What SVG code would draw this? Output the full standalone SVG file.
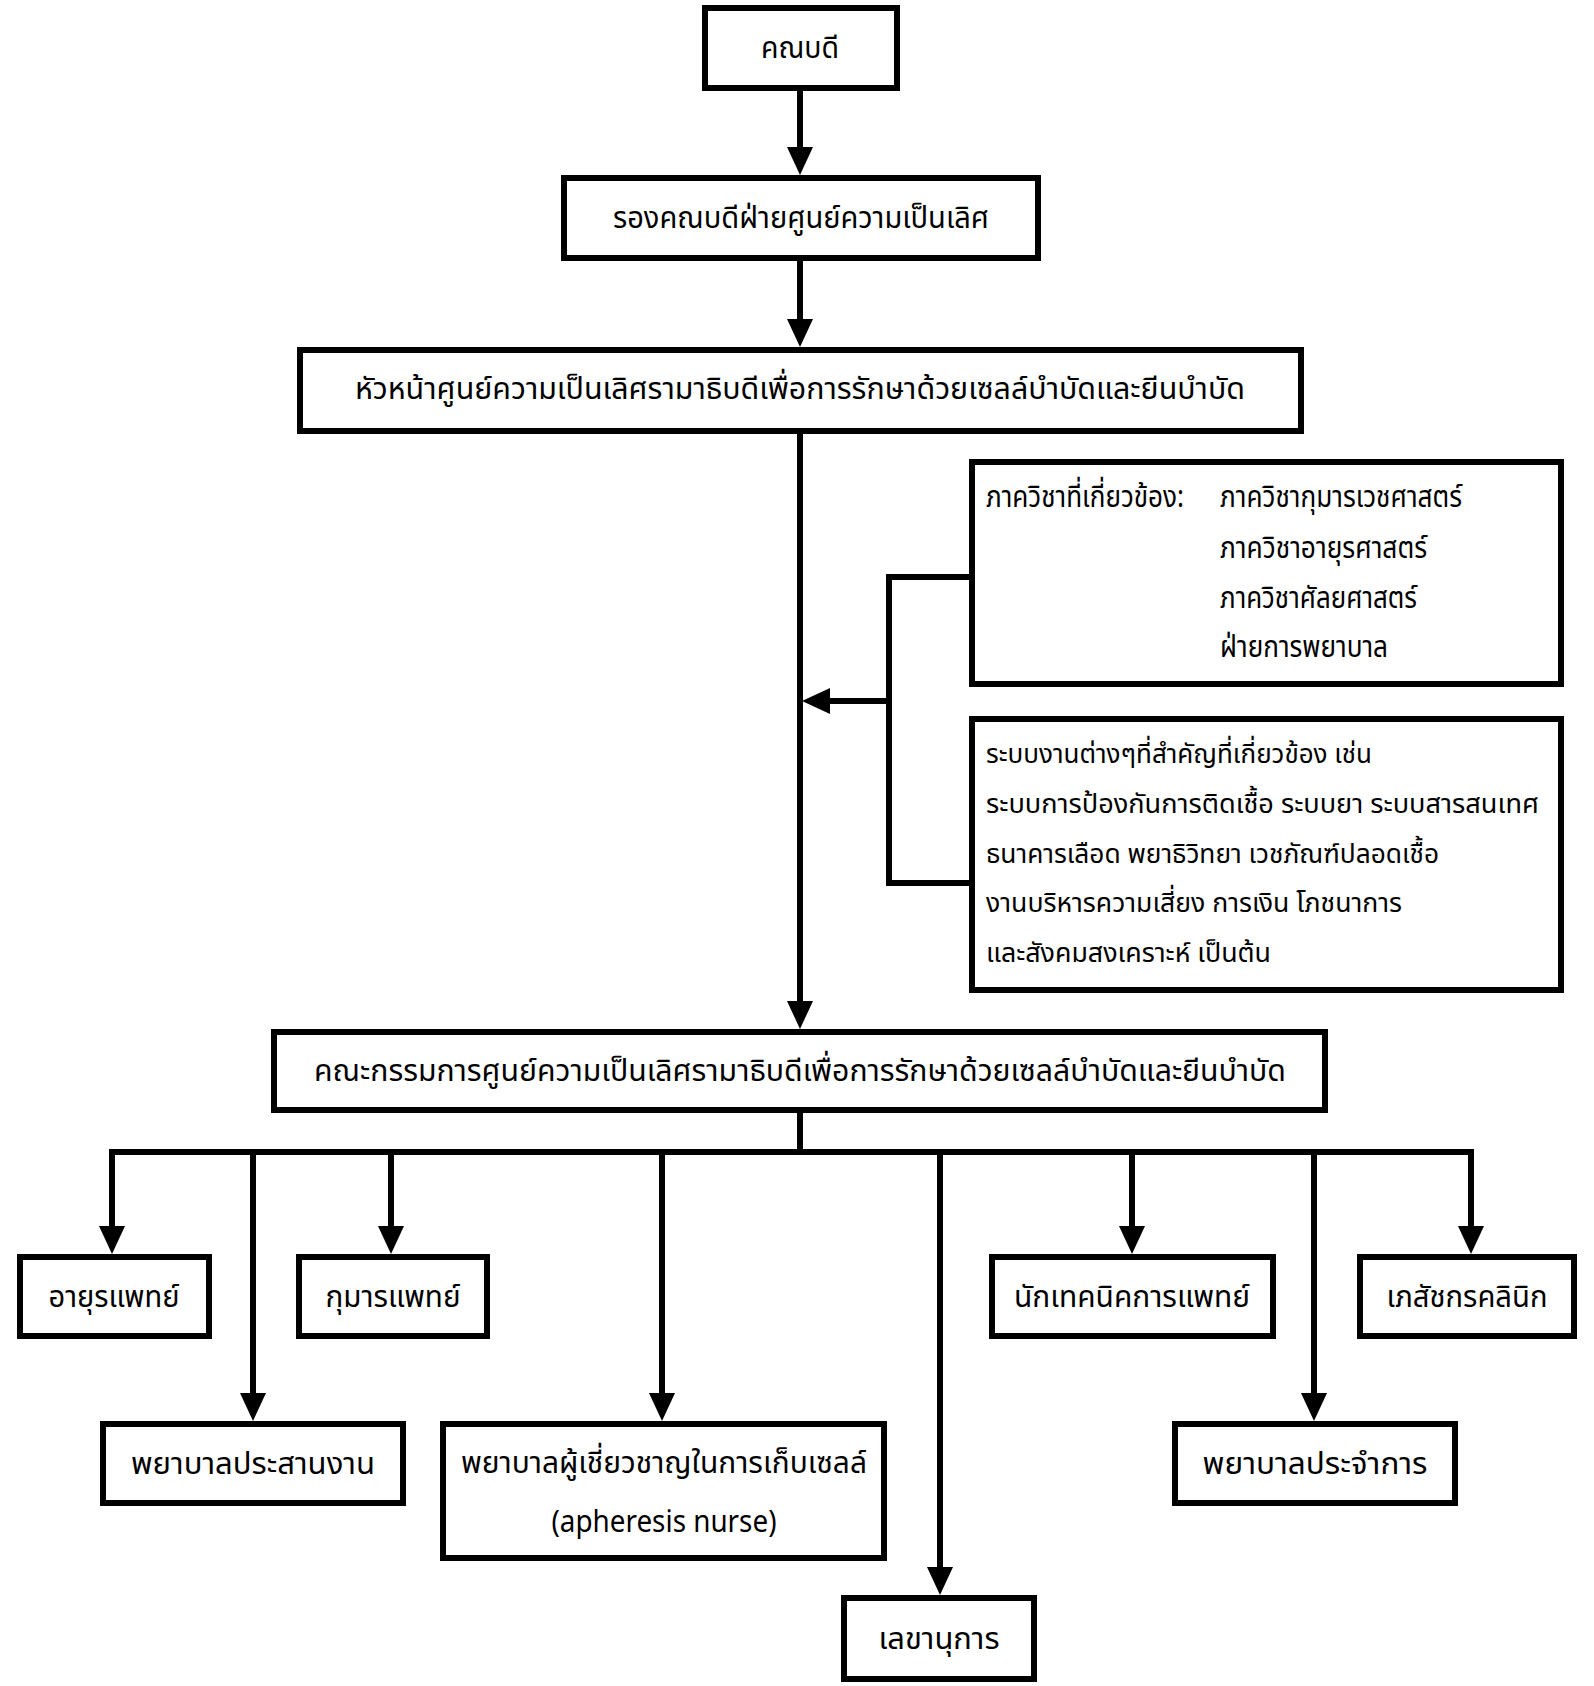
<svg xmlns="http://www.w3.org/2000/svg" width="1594" height="1686" viewBox="0 0 1594 1686">
<style>
.box{fill:#fff;stroke:#000;stroke-width:6}
.ln{fill:none;stroke:#000;stroke-width:6}
.ar{fill:none;stroke:#000;stroke-width:6;marker-end:url(#ah)}
text{font-family:"Noto Sans Thai","Leelawadee UI","Noto Sans","DejaVu Sans",sans-serif;font-size:30px;fill:#000}
.c{text-anchor:middle}
.s{font-size:27px}
</style>
<defs>
<marker id="ah" markerUnits="userSpaceOnUse" markerWidth="28" markerHeight="26" refX="8" refY="13" orient="auto">
<path d="M0,0 L28,13 L0,26 z" fill="#000"/>
</marker>
</defs>
<rect width="1594" height="1686" fill="#fff"/>
<g id="connectors">
<line class="ar" x1="800" y1="91" x2="800" y2="155"/>
<line class="ar" x1="800" y1="261" x2="800" y2="327"/>
<line class="ar" x1="800" y1="434" x2="800" y2="1009"/>
<path class="ln" d="M969 577 H889 V883 H969"/>
<line class="ar" x1="889" y1="701" x2="822" y2="701"/>
<path class="ln" d="M800 1113 V1152"/>
<path class="ln" d="M112 1234 V1152 H1471 V1234"/>
<path class="ar" d="M112 1152 V1234"/>
<path class="ar" d="M1471 1152 V1234"/>
<line class="ar" x1="391" y1="1152" x2="391" y2="1234"/>
<line class="ar" x1="1132" y1="1152" x2="1132" y2="1234"/>
<line class="ar" x1="253" y1="1152" x2="253" y2="1401"/>
<line class="ar" x1="662" y1="1152" x2="662" y2="1401"/>
<line class="ar" x1="1314" y1="1152" x2="1314" y2="1401"/>
<line class="ar" x1="940" y1="1152" x2="940" y2="1575"/>
</g>
<g id="dean"><rect class="box" x="705" y="8" width="192" height="80"/><text class="c" x="800" y="58" textLength="78" lengthAdjust="spacingAndGlyphs">คณบดี</text></g>
<g id="vice-dean"><rect class="box" x="564" y="178" width="474" height="80"/><text class="c" x="801" y="228" textLength="376" lengthAdjust="spacingAndGlyphs">รองคณบดีฝ่ายศูนย์ความเป็นเลิศ</text></g>
<g id="head"><rect class="box" x="300" y="350" width="1001" height="81"/><text class="c" x="800" y="399" textLength="890" lengthAdjust="spacingAndGlyphs">หัวหน้าศูนย์ความเป็นเลิศรามาธิบดีเพื่อการรักษาด้วยเซลล์บำบัดและยีนบำบัด</text></g>
<g id="departments"><rect class="box" x="972" y="462" width="589" height="222"/>
<text x="986" y="507" textLength="198" lengthAdjust="spacingAndGlyphs">ภาควิชาที่เกี่ยวข้อง:</text>
<text x="1220" y="507" textLength="242" lengthAdjust="spacingAndGlyphs">ภาควิชากุมารเวชศาสตร์</text>
<text x="1220" y="558" textLength="207" lengthAdjust="spacingAndGlyphs">ภาควิชาอายุรศาสตร์</text>
<text x="1220" y="608" textLength="197" lengthAdjust="spacingAndGlyphs">ภาควิชาศัลยศาสตร์</text>
<text x="1220" y="657" textLength="168" lengthAdjust="spacingAndGlyphs">ฝ่ายการพยาบาล</text></g>
<g id="systems"><rect class="box" x="972" y="719" width="589" height="271"/>
<text class="s" x="986" y="763" textLength="386" lengthAdjust="spacingAndGlyphs">ระบบงานต่างๆที่สำคัญที่เกี่ยวข้อง เช่น</text>
<text class="s" x="986" y="813" textLength="553" lengthAdjust="spacingAndGlyphs">ระบบการป้องกันการติดเชื้อ ระบบยา ระบบสารสนเทศ</text>
<text class="s" x="986" y="863" textLength="453" lengthAdjust="spacingAndGlyphs">ธนาคารเลือด พยาธิวิทยา เวชภัณฑ์ปลอดเชื้อ</text>
<text class="s" x="986" y="912" textLength="416" lengthAdjust="spacingAndGlyphs">งานบริหารความเสี่ยง การเงิน โภชนาการ</text>
<text class="s" x="986" y="962" textLength="285" lengthAdjust="spacingAndGlyphs">และสังคมสงเคราะห์ เป็นต้น</text></g>
<g id="committee"><rect class="box" x="274" y="1032" width="1051" height="78"/><text class="c" x="800" y="1081" textLength="972" lengthAdjust="spacingAndGlyphs">คณะกรรมการศูนย์ความเป็นเลิศรามาธิบดีเพื่อการรักษาด้วยเซลล์บำบัดและยีนบำบัด</text></g>
<g id="internist"><rect class="box" x="20" y="1257" width="189" height="79"/><text class="c" x="114" y="1307" textLength="131" lengthAdjust="spacingAndGlyphs">อายุรแพทย์</text></g>
<g id="pediatrician"><rect class="box" x="299" y="1257" width="188" height="79"/><text class="c" x="393" y="1307" textLength="135" lengthAdjust="spacingAndGlyphs">กุมารแพทย์</text></g>
<g id="med-tech"><rect class="box" x="992" y="1257" width="281" height="79"/><text class="c" x="1132" y="1307" textLength="236" lengthAdjust="spacingAndGlyphs">นักเทคนิคการแพทย์</text></g>
<g id="pharmacist"><rect class="box" x="1360" y="1257" width="214" height="79"/><text class="c" x="1467" y="1307" textLength="161" lengthAdjust="spacingAndGlyphs">เภสัชกรคลินิก</text></g>
<g id="coord-nurse"><rect class="box" x="103" y="1424" width="300" height="79"/><text class="c" x="253" y="1474" textLength="244" lengthAdjust="spacingAndGlyphs">พยาบาลประสานงาน</text></g>
<g id="apheresis-nurse"><rect class="box" x="443" y="1424" width="441" height="134"/><text class="c" x="664" y="1473" textLength="406" lengthAdjust="spacingAndGlyphs">พยาบาลผู้เชี่ยวชาญในการเก็บเซลล์</text><text class="c" x="664" y="1532" textLength="225" lengthAdjust="spacingAndGlyphs">(apheresis nurse)</text></g>
<g id="staff-nurse"><rect class="box" x="1175" y="1424" width="280" height="79"/><text class="c" x="1315" y="1474" textLength="225" lengthAdjust="spacingAndGlyphs">พยาบาลประจำการ</text></g>
<g id="secretary"><rect class="box" x="844" y="1598" width="190" height="81"/><text class="c" x="939" y="1649" textLength="121" lengthAdjust="spacingAndGlyphs">เลขานุการ</text></g>
</svg>
